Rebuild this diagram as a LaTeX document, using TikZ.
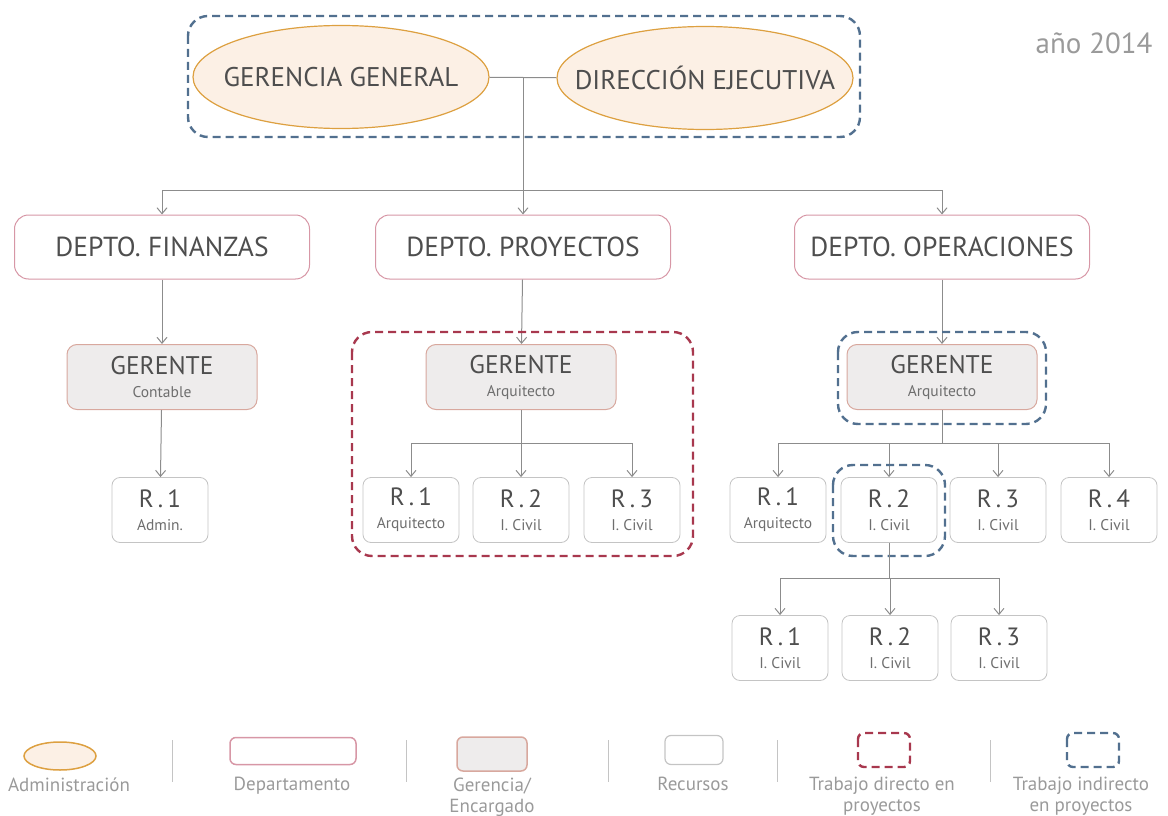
\documentclass[tikz,border=0pt]{standalone}
\usepackage{fontspec}
\setmainfont{PT Sans}
\usetikzlibrary{arrows.meta,shapes.geometric}

\definecolor{texto}{HTML}{4E4E4E}
\definecolor{subtexto}{HTML}{6E6E6E}
\definecolor{gristenue}{HTML}{9A9A9A}
\definecolor{lineagris}{HTML}{8C8C8C}
\definecolor{adminborde}{HTML}{DDA040}
\definecolor{adminfondo}{HTML}{FCF0E5}
\definecolor{deptoborde}{HTML}{D797A6}
\definecolor{gerborde}{HTML}{D8A89E}
\definecolor{gerfondo}{HTML}{EEECEC}
\definecolor{recborde}{HTML}{C4C4C4}
\definecolor{rojo}{HTML}{A8384E}
\definecolor{azul}{HTML}{52708F}

\tikzset{
    >={Straight Barb[length=6pt,width=10pt]},
    admin/.style={ellipse, draw=adminborde, fill=adminfondo, line width=1.2pt,
        minimum width=296pt, minimum height=103pt, inner xsep=-30pt, inner ysep=0pt,
        font=\fontsize{27}{30}\selectfont, text=texto},
    depto/.style={rectangle, rounded corners=14pt, draw=deptoborde, line width=1pt,
        fill=white, minimum width=295pt, minimum height=64pt, inner sep=0pt,
        font=\fontsize{27.5}{30}\selectfont, text=texto},
    gerente/.style={rectangle, rounded corners=10pt, draw=gerborde, fill=gerfondo,
        line width=1pt, minimum width=190pt, minimum height=65pt, inner sep=0pt,
        align=center, font=\fontsize{25.5}{25}\selectfont, text=texto},
    recurso/.style={rectangle, rounded corners=8pt, draw=recborde, fill=white,
        line width=0.8pt, minimum width=96pt, minimum height=65pt, inner sep=0pt,
        align=center, font=\fontsize{25}{25}\selectfont, text=texto},
    directo/.style={draw=rojo, line width=2.4pt, dash pattern=on 8pt off 5pt,
        rounded corners=20pt},
    indirecto/.style={draw=azul, line width=2.4pt, dash pattern=on 8pt off 5pt,
        rounded corners=20pt},
    linea/.style={draw=lineagris, line width=1pt},
    flecha/.style={->, draw=lineagris, line width=1pt},
    leyenda/.style={font=\fontsize{19}{21}\selectfont, text=gristenue, align=center},
    separador/.style={draw=recborde, line width=1pt}
}
\newcommand{\sub}[1]{{\fontsize{15.5}{17}\selectfont\color{subtexto}#1}}

\begin{document}
\begin{tikzpicture}[x=1pt,y=-1pt]
    \useasboundingbox (0,0) rectangle (1168,816);

    % 年份
    \node[font=\fontsize{29}{30}\selectfont, text=gristenue, anchor=east] (anio) at (1156,43) {año 2014};

    % 管理层
    \draw[indirecto] (188,16) rectangle (860,137);
    \node[admin] (gg) at (341,77) {GERENCIA GENERAL};
    \node[admin] (de) at (705,78) {DIRECCIÓN EJECUTIVA};
    \coordinate (tee) at (523,77);
    \coordinate (bus) at (523,190);
    \draw[linea] (gg) -- (de);

    % 部门
    \node[depto] (fin) at (162,247) {DEPTO. FINANZAS};
    \node[depto] (pro) at (523,247) {DEPTO. PROYECTOS};
    \node[depto] (ope) at (942,247) {DEPTO. OPERACIONES};
    \draw[flecha] (tee) -- (pro);
    \draw[flecha] (bus) -| (fin);
    \draw[flecha] (bus) -| (ope);

    % 经理
    \node[gerente] (gfin) at (162,377) {GERENTE\\[-2pt]\sub{Contable}};
    \node[gerente] (gpro) at (521,377) {GERENTE\\[-2pt]\sub{Arquitecto}};
    \node[gerente] (gope) at (942,377) {GERENTE\\[-2pt]\sub{Arquitecto}};
    \draw[flecha] (fin) -- (gfin);
    \draw[flecha] (pro) -- (gpro);
    \draw[flecha] (ope) -- (gope);
    \draw[directo] (352,332) rectangle (693,556);
    \draw[indirecto] (838,332) rectangle (1046,424);

    % 资源：财务
    \node[recurso] (fr1) at (160,510) {R\,.\,1\\[-2pt]\sub{Admin.}};
    \draw[flecha] (gfin) -- (fr1);

    % 资源：项目
    \node[recurso] (pr1) at (411,510) {R\,.\,1\\[-2pt]\sub{Arquitecto}};
    \node[recurso] (pr2) at (521,510) {R\,.\,2\\[-2pt]\sub{I. Civil}};
    \node[recurso] (pr3) at (632,510) {R\,.\,3\\[-2pt]\sub{I. Civil}};
    \draw[linea] (gpro.south) -- ++(0,33) coordinate (pbus);
    \foreach \r in {pr1,pr2,pr3}
        \draw[flecha] (pbus) -| (\r);

    % 资源：运营
    \node[recurso] (or1) at (778,510) {R\,.\,1\\[-2pt]\sub{Arquitecto}};
    \node[recurso] (or2) at (889,510) {R\,.\,2\\[-2pt]\sub{I. Civil}};
    \node[recurso] (or3) at (998,510) {R\,.\,3\\[-2pt]\sub{I. Civil}};
    \node[recurso] (or4) at (1109,510) {R\,.\,4\\[-2pt]\sub{I. Civil}};
    \draw[linea] (gope.south) -- ++(0,33) coordinate (obus);
    \foreach \r in {or1,or2,or3,or4}
        \draw[flecha] (obus) -| (\r);
    \draw[indirecto] (833,465) rectangle (945,556);

    % 第二层资源
    \node[recurso] (sr1) at (780,648) {R\,.\,1\\[-2pt]\sub{I. Civil}};
    \node[recurso] (sr2) at (890,648) {R\,.\,2\\[-2pt]\sub{I. Civil}};
    \node[recurso] (sr3) at (999,648) {R\,.\,3\\[-2pt]\sub{I. Civil}};
    \draw[linea] (or2.south) -- ++(0,36) coordinate (sbus);
    \foreach \r in {sr1,sr2,sr3}
        \draw[flecha] (sbus) -| (\r);

    % 图例
    \node[ellipse, draw=adminborde, fill=adminfondo, line width=1.5pt,
        minimum width=72pt, minimum height=28pt] (lgadmin) at (60,756) {};
    \node[leyenda, anchor=north] (txadmin) at (69,774) {Administración};
    \draw[separador] (172,740) -- (172,782);
    \node[rectangle, rounded corners=6pt, draw=deptoborde, line width=1.5pt,
        minimum width=126pt, minimum height=27pt] (lgdepto) at (293,751) {};
    \node[leyenda, anchor=north] (txdepto) at (292,774) {Departamento};
    \draw[separador] (406,740) -- (406,782);
    \node[rectangle, rounded corners=6pt, draw=gerborde, fill=gerfondo, line width=1.5pt,
        minimum width=70pt, minimum height=34pt] (lgger) at (492,754) {};
    \node[leyenda, anchor=north] (txger) at (492,774) {Gerencia/\\Encargado};
    \draw[separador] (608,740) -- (608,782);
    \node[rectangle, rounded corners=6pt, draw=recborde, line width=1.2pt,
        minimum width=58pt, minimum height=29pt] (lgrec) at (694,750) {};
    \node[leyenda, anchor=north] (txrec) at (693,774) {Recursos};
    \draw[separador] (777,740) -- (777,782);
    \draw[directo, rounded corners=6pt] (858,733) rectangle (910,767);
    \node[leyenda, anchor=north] (txdir) at (882,774) {Trabajo directo en\\proyectos};
    \draw[separador] (990,740) -- (990,782);
    \draw[indirecto, rounded corners=6pt] (1067,733) rectangle (1119,767);
    \node[leyenda, anchor=north] (txind) at (1081,774) {Trabajo indirecto\\en proyectos};
\end{tikzpicture}
\end{document}
